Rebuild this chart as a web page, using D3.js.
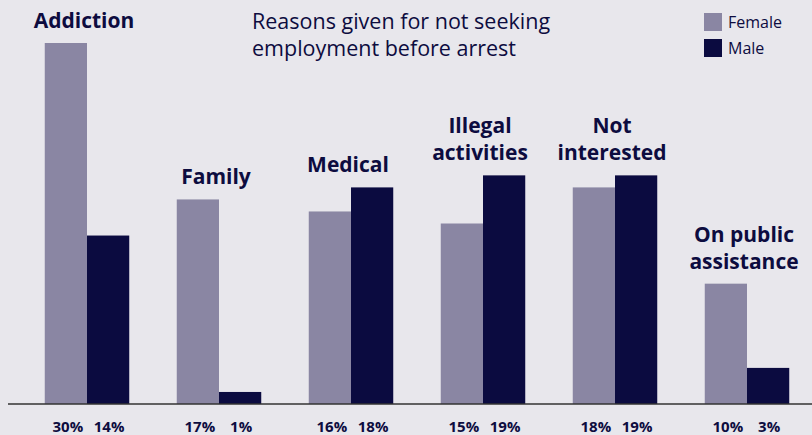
<!DOCTYPE html>
<html>
<head>
<meta charset="utf-8">
<script src="https://cdn.jsdelivr.net/npm/d3@7"></script>
<style>
  body { margin: 0; background: #e8e7ec; }
  text { font-family: 'Open Sans', sans-serif; fill: #0d0c3f; }
</style>
</head>
<body>
<script>
// Chart data
const categories = ['Addiction', 'Family', 'Medical', 'Illegal activities', 'Not interested', 'On public assistance']
const labelLines = [['Addiction'], ['Family'], ['Medical'], ['Illegal', 'activities'], ['Not', 'interested'], ['On public', 'assistance']]
const series = ['Female', 'Male']
const female = [30, 17, 16, 15, 18, 10]
const male = [14, 1, 18, 19, 19, 3]
const colors = ['#8a86a3', '#0b0b40']

const width = 812
const height = 435
const svg = d3.select('body').append('svg').attr('width', width).attr('height', height)

svg.append('rect').attr('width', width).attr('height', height).attr('fill', '#e8e7ec')

const x = d3.scaleBand().domain(categories).range([21, 813]).paddingInner(0.36).paddingOuter(0.18)
const xs = d3.scaleBand().domain(series).range([0, x.bandwidth()])
const y = d3.scaleLinear().domain([0, 30]).range([404, 43])

const rows = categories.map((c, i) => ({ cat: c, lines: labelLines[i], vals: [female[i], male[i]] }))

const groups = svg.selectAll('.grp')
	.data(rows)
	.enter()
	.append('g')
	.attr('class', 'grp')
	.attr('transform', d => 'translate(' + x(d.cat) + ',0)')

// bars
groups.selectAll('rect')
	.data(d => d.vals.map((v, j) => ({ s: series[j], v: v, j: j })))
	.enter()
	.append('rect')
	.attr('x', d => xs(d.s))
	.attr('width', xs.bandwidth())
	.attr('y', d => y(d.v))
	.attr('height', d => y(0) - y(d.v))
	.attr('fill', d => colors[d.j])

// percent labels under the axis
groups.selectAll('.pct')
	.data(d => d.vals.map((v, j) => ({ s: series[j], v: v })))
	.enter()
	.append('text')
	.attr('class', 'pct')
	.attr('x', d => xs(d.s) + xs.bandwidth() / 2 + (d.s === 'Female' ? 2 : 1))
	.attr('y', 432)
	.attr('text-anchor', 'middle')
	.attr('font-size', 15)
	.attr('font-weight', 700)
	.text(d => d.v + '%')

// category labels above the tallest bar
groups.each(function (d) {
	const top = y(d3.max(d.vals)) - 15
	const n = d.lines.length
	d3.select(this).selectAll('.cat')
		.data(d.lines)
		.enter()
		.append('text')
		.attr('class', 'cat')
		.attr('x', x.bandwidth() / 2 - 3)
		.attr('y', (t, k) => top - (n - 1 - k) * 27)
		.attr('text-anchor', 'middle')
		.attr('font-size', 21)
		.attr('font-weight', 700)
		.text(t => t)
})

// baseline
svg.append('line')
	.attr('x1', 8).attr('x2', width)
	.attr('y1', y(0)).attr('y2', y(0))
	.attr('stroke', '#333')
	.attr('stroke-width', 1.5)

// title
const title = svg.append('text').attr('x', 252).attr('y', 29).attr('font-size', 21.5)
title.append('tspan').attr('x', 252).text('Reasons given for not seeking')
title.append('tspan').attr('x', 252).attr('dy', 27).text('employment before arrest')

// legend
const legend = svg.selectAll('.leg')
	.data(series)
	.enter()
	.append('g')
	.attr('class', 'leg')
	.attr('transform', (d, i) => 'translate(704,' + (13 + i * 26) + ')')

legend.append('rect').attr('width', 18).attr('height', 18).attr('fill', (d, i) => colors[i])
legend.append('text').attr('x', 24).attr('y', 15).attr('font-size', 16).text(d => d)
</script>
</body>
</html>
